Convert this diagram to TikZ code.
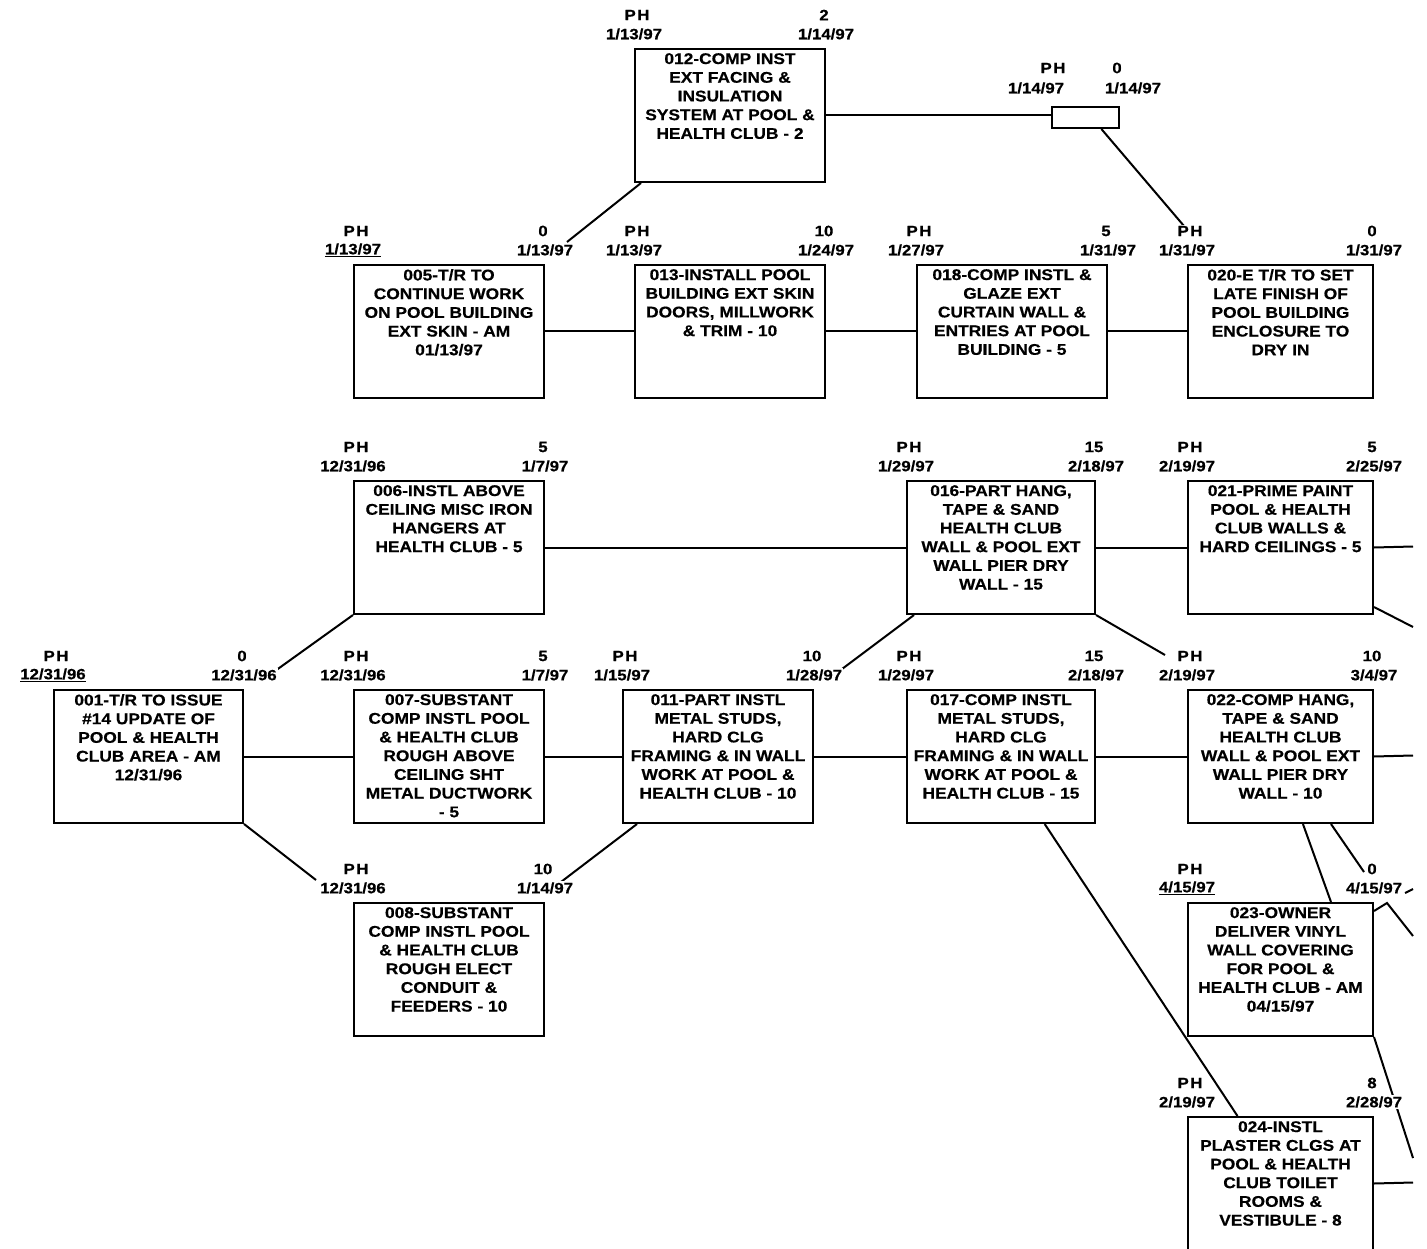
\documentclass[tikz,border=0pt]{standalone}
\usepackage{fontspec}
\newfontfamily\dfont{Liberation Sans}[FakeStretch=1.12, FakeBold=0.5]
\usetikzlibrary{calc}
\tikzset{
 boxst/.style={draw, line width=2pt, rectangle, inner sep=0pt, minimum height=133pt},
 txtst/.style={inner sep=0pt, align=center, font=\dfont\bfseries\fontsize{15.5}{18.7}\selectfont},
 labst/.style={inner sep=1pt, fill=white, font=\dfont\bfseries\fontsize{15}{18}\selectfont},
 conn/.style={line width=2pt},
}
\newcommand{\pbox}[5]{%
 \node[boxst, minimum width=#4, anchor=north west] (#1) at (#2,-#3) {};
 \node[txtst, anchor=north] (#1t) at ($(#1.north)+(0,-5)$) {#5};}
\newcommand{\plab}[4]{%
 \node[labst] (#1ph) at ($(#1.north west)+(3,33)$) {P\kern1.5pt H};
 \node[labst] (#1ld) at ($(#1.north west)+(0,14)$) {#2};
 \node[labst] (#1du) at ($(#1.north east)+(-2,33)$) {#3};
 \node[labst] (#1rd) at ($(#1.north east)+(0,14)$) {#4};}
\begin{document}
\begin{tikzpicture}[x=1pt,y=1pt]
\useasboundingbox (0,0) rectangle (1427,-1249);
\clip (0,0) rectangle (1427,-1249);
% boxes
\pbox{b012}{634}{48}{190pt}{012-COMP INST\\EXT FACING \&\\INSULATION\\SYSTEM AT POOL \&\\HEALTH CLUB - 2}
\node[draw, line width=2pt, minimum width=67pt, minimum height=21pt, inner sep=0pt, anchor=north west] (bsm) at (1051,-106) {};
\pbox{b005}{353}{264}{190pt}{005-T/R TO\\CONTINUE WORK\\ON POOL BUILDING\\EXT SKIN - AM\\01/13/97}
\pbox{b013}{634}{264}{190pt}{013-INSTALL POOL\\BUILDING EXT SKIN\\DOORS, MILLWORK\\\& TRIM - 10}
\pbox{b018}{916}{264}{190pt}{018-COMP INSTL \&\\GLAZE EXT\\CURTAIN WALL \&\\ENTRIES AT POOL\\BUILDING - 5}
\pbox{b020}{1187}{264}{185pt}{020-E T/R TO SET\\LATE FINISH OF\\POOL BUILDING\\ENCLOSURE TO\\DRY IN}
\pbox{b006}{353}{480}{190pt}{006-INSTL ABOVE\\CEILING MISC IRON\\HANGERS AT\\HEALTH CLUB - 5}
\pbox{b016}{906}{480}{188pt}{016-PART HANG,\\TAPE \& SAND\\HEALTH CLUB\\WALL \& POOL EXT\\WALL PIER DRY\\WALL - 15}
\pbox{b021}{1187}{480}{185pt}{021-PRIME PAINT\\POOL \& HEALTH\\CLUB WALLS \&\\HARD CEILINGS - 5}
\pbox{b001}{53}{689}{189pt}{001-T/R TO ISSUE\\\#14 UPDATE OF\\POOL \& HEALTH\\CLUB AREA - AM\\12/31/96}
\pbox{b007}{353}{689}{190pt}{007-SUBSTANT\\COMP INSTL POOL\\\& HEALTH CLUB\\ROUGH ABOVE\\CEILING SHT\\METAL DUCTWORK\\- 5}
\pbox{b011}{622}{689}{190pt}{011-PART INSTL\\METAL STUDS,\\HARD CLG\\FRAMING \& IN WALL\\WORK AT POOL \&\\HEALTH CLUB - 10}
\pbox{b017}{906}{689}{188pt}{017-COMP INSTL\\METAL STUDS,\\HARD CLG\\FRAMING \& IN WALL\\WORK AT POOL \&\\HEALTH CLUB - 15}
\pbox{b022}{1187}{689}{185pt}{022-COMP HANG,\\TAPE \& SAND\\HEALTH CLUB\\WALL \& POOL EXT\\WALL PIER DRY\\WALL - 10}
\pbox{b008}{353}{902}{190pt}{008-SUBSTANT\\COMP INSTL POOL\\\& HEALTH CLUB\\ROUGH ELECT\\CONDUIT \&\\FEEDERS - 10}
\pbox{b023}{1187}{902}{185pt}{023-OWNER\\DELIVER VINYL\\WALL COVERING\\FOR POOL \&\\HEALTH CLUB - AM\\04/15/97}
\pbox{b024}{1187}{1116}{185pt}{024-INSTL\\PLASTER CLGS AT\\POOL \& HEALTH\\CLUB TOILET\\ROOMS \&\\VESTIBULE - 8}
% connectors
\coordinate (e020) at (1184,-226);
\coordinate (e005) at (567,-242);
\coordinate (e011) at (838,-672);
\coordinate (e022) at (1165,-655);
\coordinate (e001) at (275,-671);
\coordinate (e008) at (316,-880);
\coordinate (e008b) at (557,-885);
\coordinate (e023) at (1364,-872);
\coordinate (k1) at (1387,-903);
\coordinate (t1) at (1405,-893);
\coordinate (t2) at (1413,-889);
\coordinate (r1) at (1413,-546.5);
\coordinate (r2) at (1413,-627);
\coordinate (r3) at (1413,-755.5);
\coordinate (r4) at (1413,-936);
\coordinate (r5) at (1413,-1158);
\coordinate (r6) at (1413,-1182.5);
\draw[conn] (b012.east) -- (b012.east -| bsm.west);
\draw[conn] ($(bsm.south west)!0.73!(bsm.south east)$) -- (e020);
\draw[conn] ($(b012.south west)+(7,0)$) -- (e005);
\draw[conn] (b005.east) -- (b013.west);
\draw[conn] (b013.east) -- (b018.west);
\draw[conn] (b018.east) -- (b020.west);
\draw[conn] (b006.east) -- (b016.west);
\draw[conn] (b016.east) -- (b021.west);
\draw[conn] (b021.east) -- (r1);
\draw[conn] ($(b021.south east)+(0,8)$) -- (r2);
\draw[conn] ($(b016.south west)+(8,0)$) -- (e011);
\draw[conn] (b016.south east) -- (e022);
\draw[conn] (b006.south west) -- (e001);
\draw[conn] (b001.east) -- (b007.west);
\draw[conn] (b001.south east) -- (e008);
\draw[conn] (b007.east) -- (b011.west);
\draw[conn] ($(b011.south west)+(15,0)$) -- (e008b);
\draw[conn] (b011.east) -- (b017.west);
\draw[conn] (b017.east) -- (b022.west);
\draw[conn] (b022.east) -- (r3);
\draw[conn] ($(b017.south west)!0.73!(b017.south east)$) -- ($(b024.north west)!0.27!(b024.north east)$);
\draw[conn] ($(b022.south west)!0.62!(b022.south east)$) -- ($(b023.north west)!0.77!(b023.north east)$);
\draw[conn] ($(b022.south west)!0.77!(b022.south east)$) -- (e023);
\draw[conn] ($(b023.north east)+(0,-9)$) -- (k1) -- (r4);
\draw[conn] (t1) -- (t2);
\draw[conn] (b023.south east) -- (r5);
\draw[conn] (b024.east) -- (r6);
% labels
\plab{b012}{1/13/97}{2}{1/14/97}
\node[labst] (smph) at (1053,-68) {P\kern1.5pt H};
\node[labst] (smdu) at (1117,-68) {0};
\node[labst] (smld) at (1036,-88) {1/14/97};
\node[labst] (smrd) at (1133,-88) {1/14/97};
\plab{b005}{\underline{1/13/97}}{0}{1/13/97}
\plab{b013}{1/13/97}{10}{1/24/97}
\plab{b018}{1/27/97}{5}{1/31/97}
\plab{b020}{1/31/97}{0}{1/31/97}
\plab{b006}{12/31/96}{5}{1/7/97}
\plab{b016}{1/29/97}{15}{2/18/97}
\plab{b021}{2/19/97}{5}{2/25/97}
\plab{b001}{\underline{12/31/96}}{0}{12/31/96}
\plab{b007}{12/31/96}{5}{1/7/97}
\plab{b011}{1/15/97}{10}{1/28/97}
\plab{b017}{1/29/97}{15}{2/18/97}
\plab{b022}{2/19/97}{10}{3/4/97}
\plab{b008}{12/31/96}{10}{1/14/97}
\plab{b023}{\underline{4/15/97}}{0}{4/15/97}
\plab{b024}{2/19/97}{8}{2/28/97}
\end{tikzpicture}
\end{document}
